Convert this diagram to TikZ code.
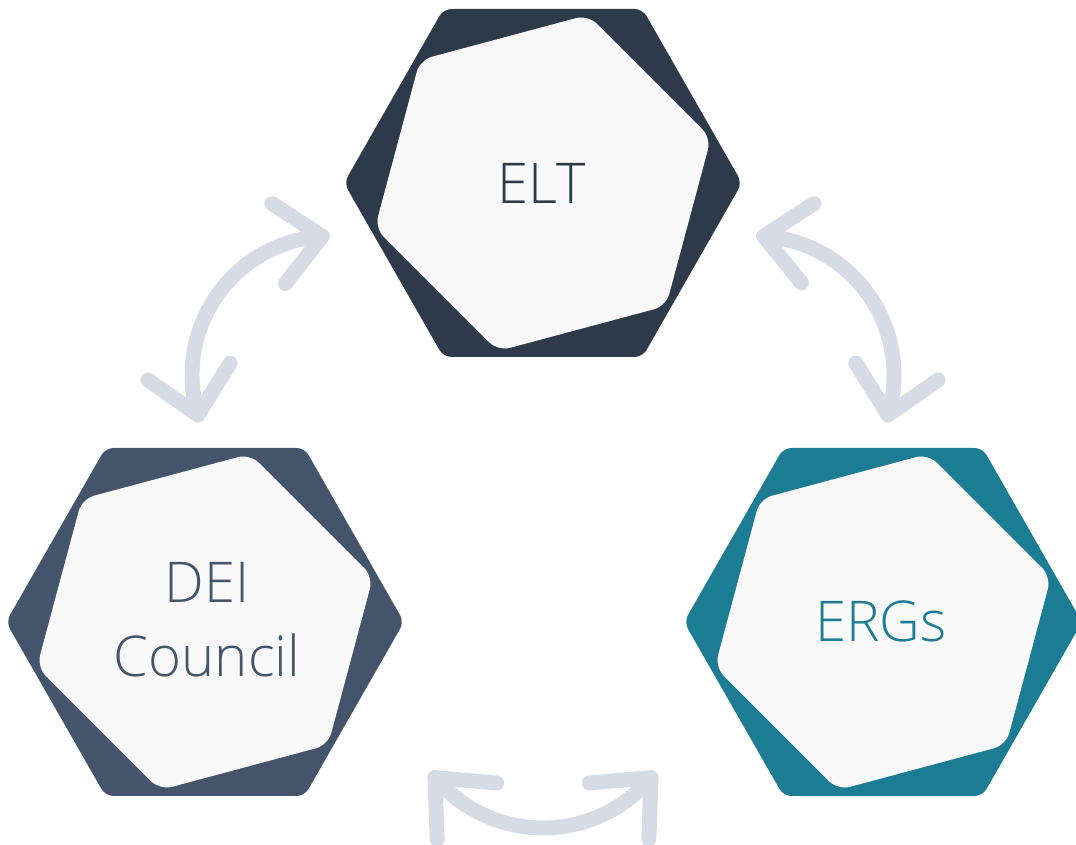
\documentclass[tikz,border=0pt]{standalone}
\usepackage{fontspec}
\setmainfont{Open Sans Light}
\usetikzlibrary{calc}
\definecolor{eltc}{HTML}{2D3A4A}
\definecolor{deic}{HTML}{44546A}
\definecolor{ergc}{HTML}{1B7C94}
\definecolor{innerc}{HTML}{F9F9F9}
\definecolor{arrc}{HTML}{D6DCE5}
\newcommand\myhex[3]{%
  \fill[#3, rounded corners=4.5pt]
    ($(#1,#2)+(199,0)$) -- ($(#1,#2)+(99.5,174)$) -- ($(#1,#2)+(-99.5,174)$) --
    ($(#1,#2)+(-199,0)$) -- ($(#1,#2)+(-99.5,-174)$) -- ($(#1,#2)+(99.5,-174)$) -- cycle;
  \fill[innerc, rounded corners=7pt]
    ($(#1,#2)+(15:174)$) -- ($(#1,#2)+(75:174)$) -- ($(#1,#2)+(135:174)$) --
    ($(#1,#2)+(195:174)$) -- ($(#1,#2)+(255:174)$) -- ($(#1,#2)+(315:174)$) -- cycle;}
\begin{document}
\begin{tikzpicture}[x=0.02cm,y=0.02cm,
  hexlabel/.style={font=\fontsize{32}{42}\selectfont, align=center, inner sep=0pt},
  arr/.style={draw=arrc, line width=8.5pt, line cap=round, line join=round}]
\useasboundingbox (0,0) rectangle (1076,845);
\clip (0,0) rectangle (1076,845);
% hexagons
\myhex{543}{662}{eltc}
\myhex{205}{223}{deic}
\myhex{883}{223}{ergc}
\node[hexlabel, text=eltc] (elt) at (542,662) {ELT};
\node[hexlabel, text=deic] (dei) at (207,225) {DEI\\Council};
\node[hexlabel, text=ergc] (erg) at (881,224) {ERGs};
% left arrow (ELT <-> DEI)
\coordinate (c1) at (331,470);
\coordinate (t1) at ($(c1)+(93.6:139)$);
\coordinate (t2) at ($(c1)+(196.7:139)$);
\draw[arr] (t2) arc[start angle=196.7, end angle=93.6, radius=139];
\draw[arr] ($(t1)+(147:60)$) -- (t1) -- ($(t1)+(232:60)$);
\draw[arr] ($(t2)+(145:61)$) -- (t2) -- ($(t2)+(58:61)$);
% right arrow (ELT <-> ERGs)
\coordinate (c2) at (755,470);
\coordinate (t3) at ($(c2)+(86.4:139)$);
\coordinate (t4) at ($(c2)+(-16.7:139)$);
\draw[arr] (t4) arc[start angle=-16.7, end angle=86.4, radius=139];
\draw[arr] ($(t3)+(33:60)$) -- (t3) -- ($(t3)+(-51:60)$);
\draw[arr] ($(t4)+(35:61)$) -- (t4) -- ($(t4)+(122:61)$);
% bottom arrow (DEI <-> ERGs)
\coordinate (c3) at (543,158);
\coordinate (t5) at ($(c3)+(220:141)$);
\coordinate (t6) at ($(c3)+(320:141)$);
\draw[arr] (t5) arc[start angle=220, end angle=320, radius=141];
\draw[arr] ($(t5)+(-5:62)$) -- (t5) -- ($(t5)+(-88:62)$);
\draw[arr] ($(t6)+(185:62)$) -- (t6) -- ($(t6)+(268:62)$);
\end{tikzpicture}
\end{document}
